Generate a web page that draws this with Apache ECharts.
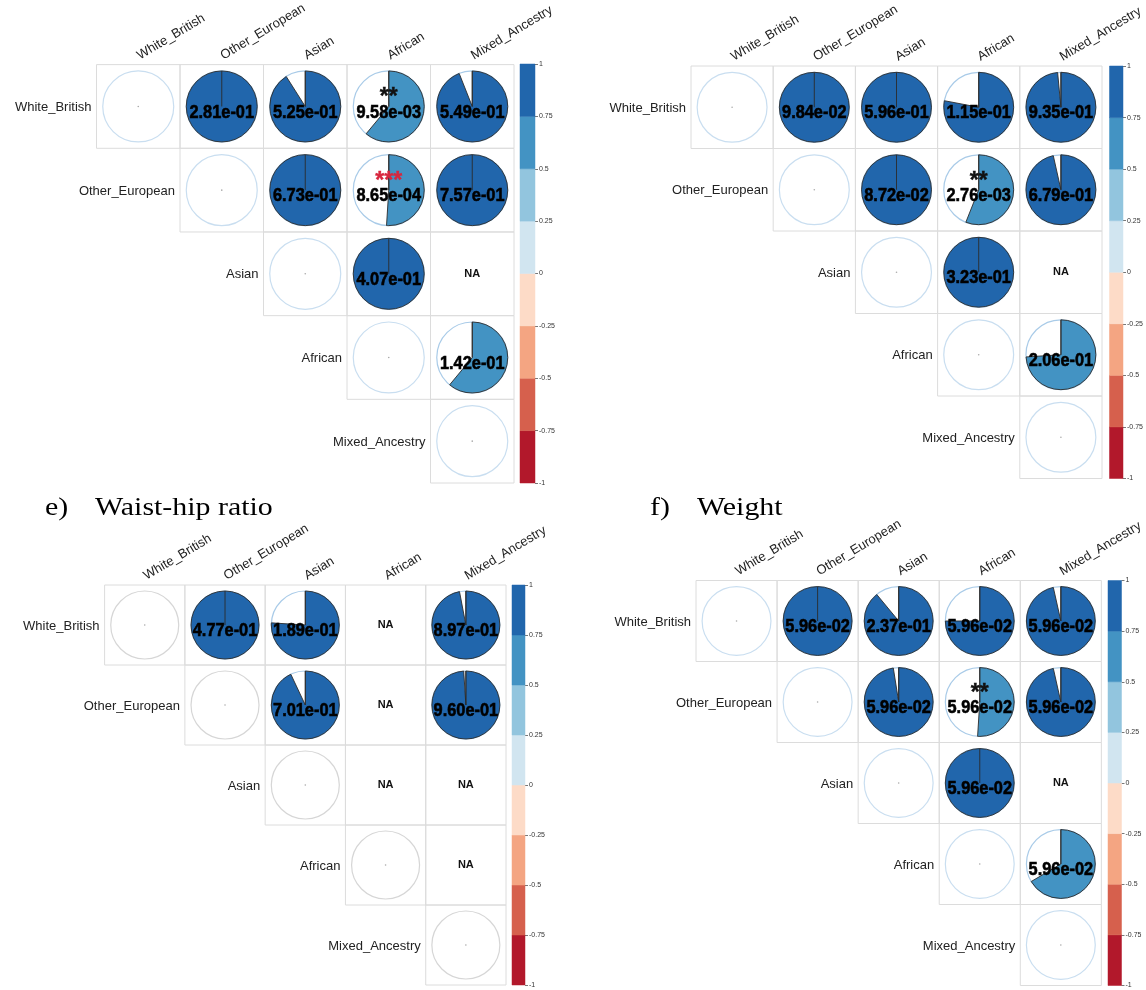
<!DOCTYPE html>
<html>
<head>
<meta charset="utf-8">
<title>Correlation pies</title>
<script src="https://cdn.jsdelivr.net/npm/echarts/dist/echarts.min.js"></script>
<style>
  html, body { margin: 0; padding: 0; background: #fff; }
  #chart { width: 1146px; height: 990px; }
</style>
</head>
<body>
<div id="chart"></div>
<script>
// Ancestry groups shown on both matrix axes
const groups = ['White_British', 'Other_European', 'Asian', 'African', 'Mixed_Ancestry'];

// Upper-triangle pairs as [row, column], in reading order
const pairs = [[0, 1], [0, 2], [0, 3], [0, 4], [1, 2], [1, 3], [1, 4], [2, 3], [2, 4], [3, 4]];

// Colour-bar breaks
const barTicks = [-1, -0.75, -0.5, -0.25, 0, 0.25, 0.5, 0.75, 1];
const barColors = ['#b2182b', '#d6604d', '#f4a582', '#fddbc7', '#d1e5f0', '#92c5de', '#4393c3', '#2166ac'];

// Top-left matrix
const corrTopLeft  = [1, 0.91, 0.61, 0.94, 1, 0.51, 1, 1, null, 0.61];
const pTopLeft     = [2.81e-1, 5.25e-1, 9.58e-3, 5.49e-1, 6.73e-1, 8.65e-4, 7.57e-1, 4.07e-1, null, 1.42e-1];
const starsTopLeft = ['', '', '**', '', '', '***', '', '', '', ''];

// Top-right matrix
const corrTopRight  = [1, 1, 0.78, 0.985, 1, 0.56, 0.965, 1, null, 0.74];
const pTopRight     = [9.84e-2, 5.96e-1, 1.15e-1, 9.35e-1, 8.72e-2, 2.76e-3, 6.79e-1, 3.23e-1, null, 2.06e-1];
const starsTopRight = ['', '', '', '', '', '**', '', '', '', ''];

// e) Waist-hip ratio
const corrWaistHip  = [1, 0.76, null, 0.97, 0.93, null, 0.99, null, null, null];
const pWaistHip     = [4.77e-1, 1.89e-1, null, 8.97e-1, 7.01e-1, null, 9.60e-1, null, null, null];
const starsWaistHip = ['', '', '', '', '', '', '', '', '', ''];

// f) Weight
const corrWeight  = [1, 0.89, 0.75, 0.965, 0.975, 0.51, 0.965, 1, null, 0.665];
const pWeight     = [5.96e-2, 2.37e-1, 5.96e-2, 5.96e-2, 5.96e-2, 5.96e-2, 5.96e-2, 5.96e-2, null, 5.96e-2];
const starsWeight = ['', '', '', '', '', '**', '', '', '', ''];

const panels = [
  { corr: corrTopLeft,  p: pTopLeft,  stars: starsTopLeft,  diagStroke: '#c9def0',
    grid: { left: 96.5, top: 64, width: 417.5, height: 419 }, bar: { left: 520, top: 64, width: 15, height: 419 } },
  { corr: corrTopRight, p: pTopRight, stars: starsTopRight, diagStroke: '#c9def0',
    grid: { left: 691, top: 66, width: 412, height: 412.5 }, bar: { left: 1109.5, top: 66, width: 13.5, height: 412.5 } },
  { corr: corrWaistHip, p: pWaistHip, stars: starsWaistHip, diagStroke: '#d6d6d6',
    grid: { left: 104.6, top: 585, width: 401.4, height: 400 }, bar: { left: 512, top: 585, width: 13, height: 400 } },
  { corr: corrWeight,   p: pWeight,   stars: starsWeight,   diagStroke: '#c9def0',
    grid: { left: 696, top: 580.5, width: 405.6, height: 405 }, bar: { left: 1108, top: 580.5, width: 13.5, height: 405 } }
];

const labelFont = '"Liberation Sans", Arial, sans-serif';
const serifFont = '"Liberation Serif", "Times New Roman", serif';

function binColor(v) {
  const i = Math.max(0, Math.min(barColors.length - 1, Math.floor((v + 1) / 0.25)));
  return barColors[i];
}

function sci(p) {
  return p.toExponential(2).replace(/e([+-])(\d)$/, 'e$10$2');
}

// Cells of one matrix: diagonal circles plus the upper-triangle pairs
function buildCells() {
  const cells = [];
  groups.forEach((g, i) => cells.push({ col: i, row: i, kind: 'diag' }));
  pairs.forEach((pr, k) => cells.push({ col: pr[1], row: pr[0], kind: 'pair', k: k }));
  return cells;
}

function matrixRenderer(panel, cells) {
  return function (params, api) {
    const cell = cells[params.dataIndex];
    const c = api.coord([api.value(0), api.value(1)]);
    const s = api.size([1, 1]);
    const cw = s[0], ch = s[1];
    const cx = c[0], cy = c[1];
    const r = Math.min(cw, ch) * 0.425;
    const children = [{
      type: 'rect',
      shape: { x: cx - cw / 2, y: cy - ch / 2, width: cw, height: ch },
      style: { fill: 'none', stroke: '#dcdcdc', lineWidth: 1 }
    }];
    if (cell.kind === 'diag') {
      children.push({ type: 'circle', shape: { cx: cx, cy: cy, r: r },
        style: { fill: 'none', stroke: panel.diagStroke, lineWidth: 1.2 } });
      children.push({ type: 'circle', shape: { cx: cx, cy: cy, r: 0.8 }, style: { fill: '#aaa' } });
      children.push({ type: 'text', x: cx - cw / 2 - 5, y: cy + 1,
        style: { text: groups[cell.row], fill: '#222', fontSize: 13, fontFamily: labelFont,
                 align: 'right', verticalAlign: 'middle' } });
    } else {
      const v = panel.corr[cell.k];
      if (v === null) {
        children.push({ type: 'text', x: cx, y: cy,
          style: { text: 'NA', fill: '#111', fontSize: 11, fontWeight: 'bold', fontFamily: labelFont,
                   align: 'center', verticalAlign: 'middle' } });
      } else {
        const fs = Math.round(cw * 0.232);
        children.push({ type: 'circle', shape: { cx: cx, cy: cy, r: r },
          style: { fill: '#fff', stroke: '#a9cbe8', lineWidth: 1.2 } });
        children.push({ type: 'sector',
          shape: { cx: cx, cy: cy, r: r, r0: 0, startAngle: -Math.PI / 2,
                   endAngle: -Math.PI / 2 + (v >= 0 ? 1 : -1) * 2 * Math.PI * Math.abs(v),
                   clockwise: v >= 0 },
          style: { fill: binColor(v), stroke: '#2b2b2b', lineWidth: 0.9 } });
        children.push({ type: 'line', shape: { x1: cx, y1: cy, x2: cx, y2: cy - r },
          style: { stroke: '#2b2b2b', lineWidth: 0.9 } });
        children.push({ type: 'text', x: cx, y: cy + ch * 0.07, scaleX: 0.86,
          style: { text: sci(panel.p[cell.k]), fill: '#000', stroke: '#000', lineWidth: 0.6,
                   fontSize: fs, fontWeight: 'bold', fontFamily: labelFont,
                   align: 'center', verticalAlign: 'middle' } });
        const st = panel.stars[cell.k];
        if (st) {
          const starColor = st.length === 3 ? '#d7263d' : '#111';
          children.push({ type: 'text', x: cx, y: cy - ch * 0.1,
            style: { text: st, fill: starColor, stroke: starColor, lineWidth: 0.4,
                     fontSize: Math.round(fs * 1.2), fontWeight: 'bold', fontFamily: labelFont,
                     align: 'center', verticalAlign: 'middle' } });
        }
      }
    }
    return { type: 'group', children: children };
  };
}

function barRenderer(params, api) {
  const lo = api.value(1);
  const p0 = api.coord([0, lo]);
  const p1 = api.coord([0, lo + 0.25]);
  const w = api.size([1, 0])[0];
  return {
    type: 'rect',
    shape: { x: p0[0] - w / 2, y: p1[1], width: w, height: p0[1] - p1[1] },
    style: { fill: barColors[params.dataIndex], stroke: barColors[params.dataIndex], lineWidth: 0.5 }
  };
}

function titleText(x, text) {
  return { type: 'text', x: x, y: 508, scaleX: 1.15,
    style: { text: text, fontSize: 26, fontFamily: serifFont, fill: '#000', verticalAlign: 'middle' } };
}

const option = {
  backgroundColor: '#fff',
  animation: false,
  grid: [], xAxis: [], yAxis: [], series: [],
  graphic: [
    titleText(45, 'e)'), titleText(95, 'Waist-hip ratio'),
    titleText(650, 'f)'), titleText(697, 'Weight')
  ]
};

panels.forEach(panel => {
  const gi = option.grid.length;
  option.grid.push(Object.assign({ containLabel: false }, panel.grid));
  option.grid.push(Object.assign({ containLabel: false }, panel.bar));

  option.xAxis.push({
    gridIndex: gi, type: 'category', data: groups, position: 'top',
    axisLine: { show: false }, axisTick: { show: false }, splitLine: { show: false },
    axisLabel: { interval: 0, rotate: -31, margin: 8, fontSize: 13, color: '#222', fontFamily: labelFont }
  });
  option.yAxis.push({
    gridIndex: gi, type: 'category', data: groups, inverse: true, show: false
  });
  option.xAxis.push({ gridIndex: gi + 1, type: 'category', data: [''], show: false });
  option.yAxis.push({
    gridIndex: gi + 1, type: 'value', position: 'right', min: -1, max: 1, interval: 0.25,
    axisLine: { show: false }, splitLine: { show: false },
    axisTick: { show: true, length: 3, lineStyle: { color: '#555', width: 0.8 } },
    axisLabel: { fontSize: 7, color: '#333', margin: 4, fontFamily: labelFont }
  });

  const cells = buildCells();
  option.series.push({
    type: 'custom', xAxisIndex: gi, yAxisIndex: gi,
    data: cells.map(c => [c.col, c.row]),
    encode: { x: 0, y: 1 },
    renderItem: matrixRenderer(panel, cells)
  });
  option.series.push({
    type: 'custom', xAxisIndex: gi + 1, yAxisIndex: gi + 1,
    data: barTicks.slice(0, -1).map(lo => [0, lo]),
    encode: { x: 0, y: 1 },
    renderItem: barRenderer
  });
});

const chart = echarts.init(document.getElementById('chart'), null, { renderer: 'canvas' });
chart.setOption(option);
</script>
</body>
</html>
